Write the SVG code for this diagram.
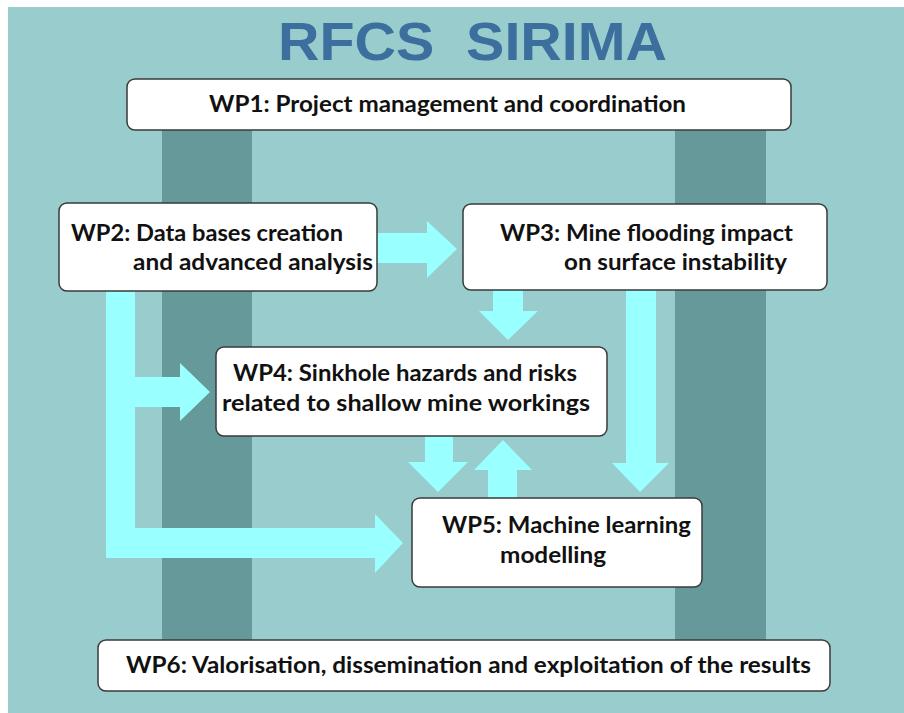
<svg xmlns="http://www.w3.org/2000/svg" width="904" height="713" viewBox="0 0 904 713">
<style>
.bg{fill:#99cccc}
.stripe{fill:#669999}
.box{fill:#ffffff;stroke:#3a3a3a;stroke-width:1.5}
.arrow{fill:#99ffff}
.t{font-family:Lato,"Open Sans","Liberation Sans",sans-serif;font-weight:bold;font-size:22px;fill:#111111}
.title{font-family:"Liberation Sans",Arial,sans-serif;font-weight:bold;font-size:53px;fill:#3c6e9e}
</style>
<rect width="904" height="713" fill="#ffffff"/>
<rect class="bg" x="8" y="7" width="896" height="706"/>
<rect class="stripe" x="162" y="110" width="90" height="545"/>
<rect class="stripe" x="675" y="110" width="91" height="545"/>
<text class="title" x="278" y="60" textLength="389" lengthAdjust="spacingAndGlyphs" xml:space="preserve">RFCS  SIRIMA</text>
<g id="connectors">
<polygon class="arrow" points="377,233 427,233 427,221 457,249 427,278 427,263 377,263"/>
<polygon class="arrow" points="493,290 523,290 523,311 538,311 508,340 479,311 493,311"/>
<polygon class="arrow" points="626,290 656,290 656,463 669,463 640,492 612,463 626,463"/>
<polygon class="arrow" points="106,291 135,291 135,377 180,377 180,363 210,392 180,421 180,407 135,407 135,528 375,528 375,514 403,543 375,573 375,558 106,558"/>
<polygon class="arrow" points="425,436 453,436 453,462 468,462 438,492 408,462 425,462"/>
<polygon class="arrow" points="488,498 517,498 517,470 532,470 503,440 474,470 488,470"/>
</g>
<g id="wp1">
<rect class="box" x="127" y="79" width="664" height="51" rx="8"/>
<text class="t" x="209" y="112" textLength="477" lengthAdjust="spacingAndGlyphs">WP1: Project management and coordination</text>
</g>
<g id="wp2">
<rect class="box" x="59" y="203" width="318" height="88" rx="8"/>
<text class="t" x="71" y="241" textLength="272" lengthAdjust="spacingAndGlyphs">WP2: Data bases creation</text>
<text class="t" x="133" y="270" textLength="240" lengthAdjust="spacingAndGlyphs">and advanced analysis</text>
</g>
<g id="wp3">
<rect class="box" x="463" y="204" width="364" height="86" rx="8"/>
<text class="t" x="500" y="241" textLength="293" lengthAdjust="spacingAndGlyphs">WP3: Mine flooding impact</text>
<text class="t" x="564" y="270" textLength="223" lengthAdjust="spacingAndGlyphs">on surface instability</text>
</g>
<g id="wp4">
<rect class="box" x="216" y="347" width="391" height="89" rx="8"/>
<text class="t" x="233" y="381" textLength="344" lengthAdjust="spacingAndGlyphs">WP4: Sinkhole hazards and risks</text>
<text class="t" x="222" y="411" textLength="368" lengthAdjust="spacingAndGlyphs">related to shallow mine workings</text>
</g>
<g id="wp5">
<rect class="box" x="412" y="498" width="290" height="89" rx="8"/>
<text class="t" x="442" y="533" textLength="249" lengthAdjust="spacingAndGlyphs">WP5: Machine learning</text>
<text class="t" x="500" y="563" textLength="106" lengthAdjust="spacingAndGlyphs">modelling</text>
</g>
<g id="wp6">
<rect class="box" x="98" y="640" width="732" height="51" rx="8"/>
<text class="t" x="126" y="673" textLength="685" lengthAdjust="spacingAndGlyphs">WP6: Valorisation, dissemination and exploitation of the results</text>
</g>
</svg>
